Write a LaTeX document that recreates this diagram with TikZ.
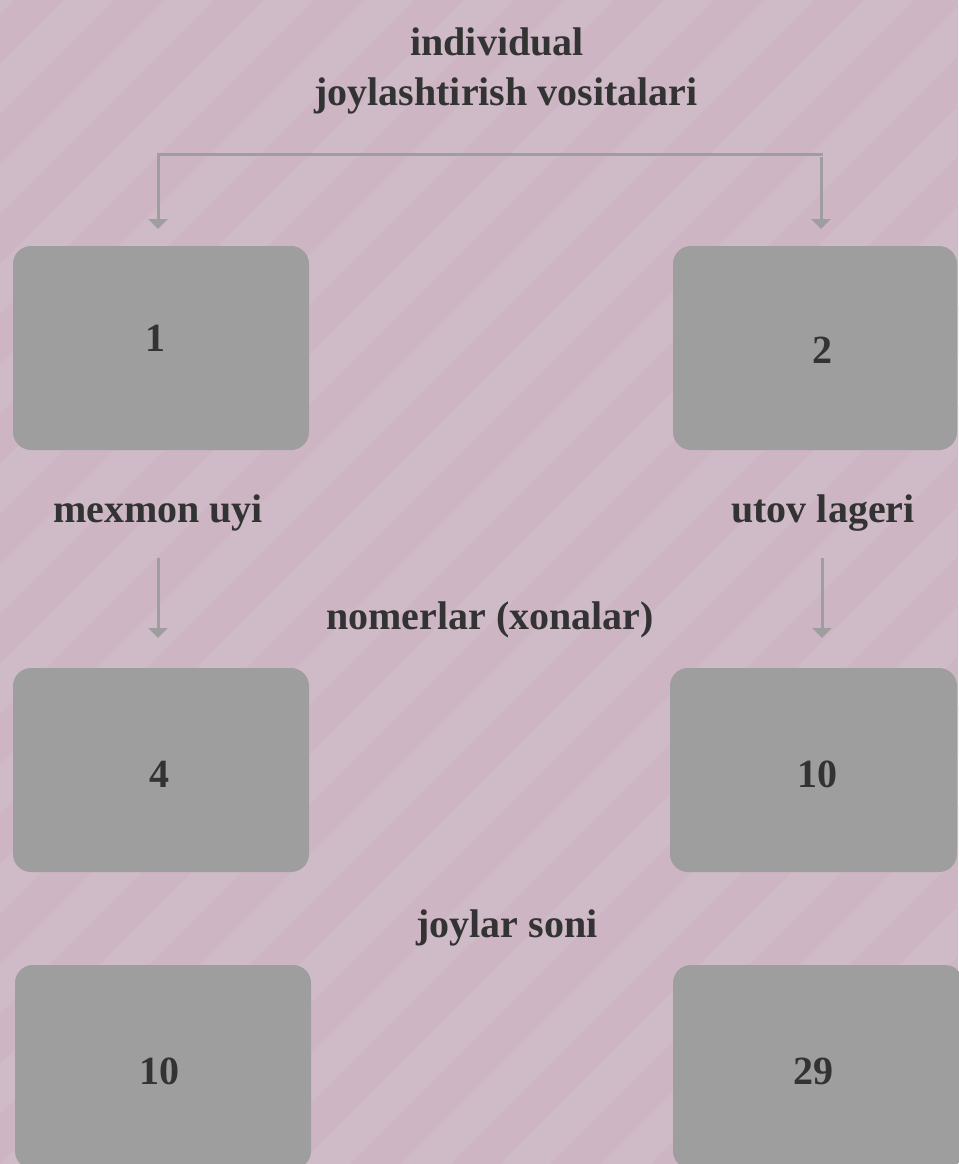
\documentclass[tikz,border=0pt]{standalone}
\usepackage{fontspec}
\setmainfont{Liberation Serif}
\usetikzlibrary{arrows.meta}
\definecolor{bgcol}{RGB}{205,181,196}
\definecolor{stripecol}{RGB}{207,187,199}
\definecolor{boxcol}{RGB}{158,158,158}
\definecolor{txtcol}{RGB}{51,51,51}
\tikzset{
  box/.style={fill=boxcol, rounded corners=18pt, inner sep=0pt},
  lbl/.style={text=txtcol, font=\bfseries\fontsize{40}{46}\selectfont, anchor=base, inner sep=0pt},
  conn/.style={draw=boxcol, line width=3pt},
  arr/.style={conn, -{Triangle[width=19pt,length=10pt]}},
}
\begin{document}
\begin{tikzpicture}[x=1pt,y=-1pt]
\useasboundingbox (0,0) rectangle (958,1164);
\fill[bgcol] (0,0) rectangle (958,1164);
\begin{scope}
\clip (0,0) rectangle (958,1164);
\foreach \i in {-1300,-1200,...,1000}
  \fill[stripecol] (\i,1164) -- ++(50,0) -- ++(1164,-1164) -- ++(-50,0) -- cycle;
\end{scope}
% boxes
\node[box, minimum width=296pt, minimum height=204pt] (b1) at (161,348) {};
\node[box, minimum width=284pt, minimum height=204pt] (b2) at (815,348) {};
\node[box, minimum width=296pt, minimum height=204pt] (b4) at (161,770) {};
\node[box, minimum width=287pt, minimum height=204pt] (b10) at (813.5,770) {};
\node[box, minimum width=296pt, minimum height=204pt] (c10) at (163,1067) {};
\node[box, minimum width=290pt, minimum height=204pt] (c29) at (818,1067) {};
% numbers
\node[lbl] (n1) at (155,351) {1};
\node[lbl] (n2) at (822,363) {2};
\node[lbl] (n4) at (159,787) {4};
\node[lbl] (n10) at (817,787) {10};
\node[lbl] (m10) at (159.5,1084) {10};
\node[lbl] (m29) at (813.5,1084) {29};
% labels
\node[lbl] (t1) at (497,56) {individual};
\node[lbl] (t2) at (506,105) {joylashtirish vositalari};
\node[lbl] (l1) at (158,522) {mexmon uyi};
\node[lbl] (l2) at (823,522) {utov lageri};
\node[lbl] (l3) at (490,629) {nomerlar (xonalar)};
\node[lbl] (l4) at (507,937) {joylar soni};
% connectors
\coordinate (jl) at (158,154);
\coordinate (jr) at (821,154);
\coordinate (tl) at (158,229);
\coordinate (tr) at (821,229);
\draw[conn, line cap=rect] (jl) -- (jr);
\draw[arr] (jl) -- (tl);
\draw[arr] ([yshift=-3pt]jr) -- (tr);
\coordinate (sl) at (158,558);
\coordinate (el) at (158,638);
\coordinate (sr) at (822,558);
\coordinate (er) at (822,638);
\draw[arr] (sl) -- (el);
\draw[arr] (sr) -- (er);
\end{tikzpicture}
\end{document}
